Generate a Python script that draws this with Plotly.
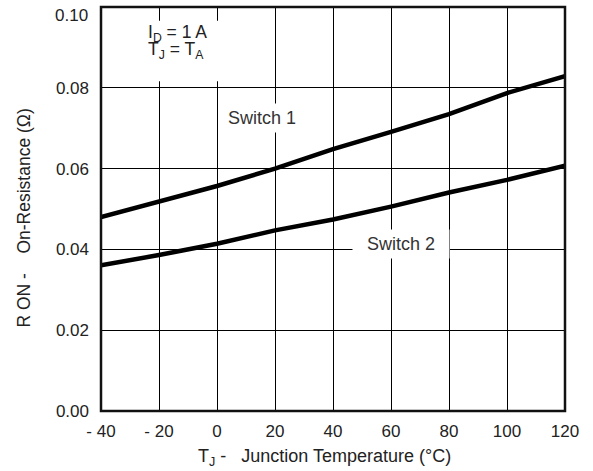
import plotly.graph_objects as go

temps = [-40, -20, 0, 20, 40, 60, 80, 100, 120]
switch1 = [0.0480, 0.0518, 0.0557, 0.0600, 0.0648, 0.0691, 0.0735, 0.0787, 0.0829]
switch2 = [0.0361, 0.0386, 0.0414, 0.0447, 0.0474, 0.0506, 0.0541, 0.0572, 0.0607]

x_ticks = [-40, -20, 0, 20, 40, 60, 80, 100, 120]
x_ticktext = ["- 40", "- 20", "0", "20", "40", "60", "80", "100", "120"]
y_ticks = [0.0, 0.02, 0.04, 0.06, 0.08, 0.10]
y_ticktext = ["0.00", "0.02", "0.04", "0.06", "0.08", "0.10"]

FONT = "Liberation Sans, Arial, Helvetica, sans-serif"
W, H = 593, 471
L, R, T, B = 101, 28, 7, 60
NB = "\u00a0"

fig = go.Figure()
fig.add_trace(go.Scatter(x=temps, y=switch1, mode="lines", line=dict(color="black", width=4.5), showlegend=False))
fig.add_trace(go.Scatter(x=temps, y=switch2, mode="lines", line=dict(color="black", width=4.5), showlegend=False))

# the top tick label sits slightly lower in the reference (kept inside the page)
axis_ticktext = y_ticktext[:-1] + [""]

fig.update_layout(
    width=W, height=H,
    margin=dict(l=L, r=R, t=T, b=B, pad=0, autoexpand=False),
    paper_bgcolor="white", plot_bgcolor="white",
    font=dict(family=FONT, size=17, color="#222"),
    xaxis=dict(range=[-40, 120], tickvals=x_ticks, ticktext=x_ticktext, automargin=False,
               showgrid=True, gridcolor="black", gridwidth=1, zeroline=False,
               showline=False, ticks="", ticklen=0, ticklabelstandoff=8,
               ticklabeloverflow="allow", tickfont=dict(size=17, color="#222")),
    yaxis=dict(range=[0, 0.1], tickvals=y_ticks, ticktext=axis_ticktext, automargin=False,
               showgrid=True, gridcolor="black", gridwidth=1, zeroline=False,
               showline=False, ticks="", ticklen=0, ticklabelstandoff=11,
               ticklabeloverflow="allow", tickfont=dict(size=17, color="#222")),
)

fig.add_annotation(xref="paper", x=0, y=y_ticks[-1], text=y_ticktext[-1], showarrow=False,
                   xanchor="right", yanchor="middle", xshift=-11, yshift=-8,
                   font=dict(size=17, color="#222"))

fig.add_shape(type="rect", xref="paper", yref="paper", x0=0, y0=0, x1=1, y1=1,
              line=dict(color="#111", width=2.5), layer="above")

fig.add_annotation(x=15.5, y=0.0726, text="Switch 1", showarrow=False,
                   font=dict(size=18, color="#333"), bgcolor="white", borderpad=4, width=78)
fig.add_annotation(x=63.5, y=0.0413, text="Switch 2", showarrow=False,
                   font=dict(size=18, color="#333"), bgcolor="white", borderpad=4, width=88)

# condition labels (white box behind them)
fig.add_shape(type="rect", x0=-28, x1=5, y0=0.0816, y1=0.0966, line=dict(width=0),
              fillcolor="white", layer="above")
fig.add_annotation(x=-24.6, y=0.0935, xanchor="left", yanchor="middle", align="left",
                   text="I<sub>D</sub> = 1 A", showarrow=False,
                   font=dict(size=17.5, color="#222"))
fig.add_annotation(x=-24.6, y=0.0893, xanchor="left", yanchor="middle", align="left",
                   text="T<sub>J</sub> = T<sub>A</sub>", showarrow=False,
                   font=dict(size=17.5, color="#222"))

# axis titles
fig.add_annotation(xref="paper", yref="paper", x=(324.5 - L) / (W - L - R), y=-(457 - (H - B)) / (H - T - B),
                   text="T<sub>J</sub> -" + NB * 3 + "Junction Temperature (°C)", showarrow=False,
                   font=dict(size=18, color="#222"), xanchor="center", yanchor="middle")
fig.add_annotation(xref="paper", yref="paper", x=-(L - 23) / (W - L - R), y=(H - B - 218.5) / (H - T - B),
                   text="R ON -" + NB * 4 + "On-Resistance (Ω)", showarrow=False, textangle=-90,
                   font=dict(size=17.5, color="#222"), xanchor="center", yanchor="middle")

fig.write_html("out.html")
